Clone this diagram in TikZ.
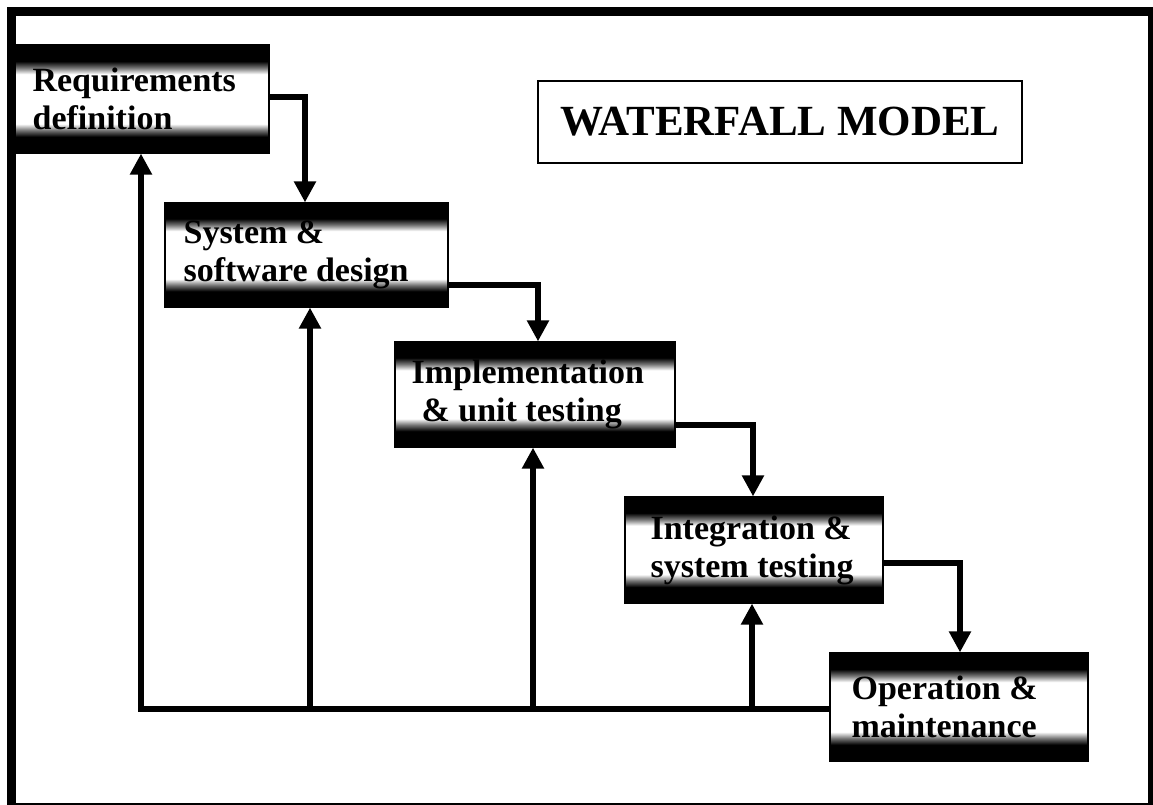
\documentclass[tikz,border=0pt]{standalone}
\usepackage{fontspec}
\setmainfont{Liberation Serif}
\usetikzlibrary{arrows.meta}

% dark bands at top and bottom of each stage box, white in the middle
\pgfdeclareverticalshading{stageband}{100bp}{%
  color(0bp)=(black); color(25bp)=(black); color(32.5bp)=(black);
  color(35.5bp)=(black!55); color(38.5bp)=(white); color(61.5bp)=(white);
  color(64.5bp)=(black!55); color(67.5bp)=(black); color(75bp)=(black);
  color(100bp)=(black)}

\begin{document}
\begin{tikzpicture}[x=1pt,y=-1pt,
  stage/.style={rectangle, draw=black, line width=1.2pt, shading=stageband,
    inner sep=0pt},
  stagetext/.style={anchor=west, align=left, inner sep=0pt,
    font=\fontsize{34}{38}\selectfont\bfseries},
  flow/.style={line width=6pt, line cap=butt, line join=miter,
    -{Triangle[width=21pt,length=21pt]}},
  titlebox/.style={rectangle, draw=black, line width=1.6pt, fill=white,
    minimum width=484pt, minimum height=82pt,
    font=\fontsize{43}{47}\selectfont\bfseries}]

\useasboundingbox (0,0) rectangle (1153,805);
\clip (0,0) rectangle (1153,805);
\fill[white] (0,0) rectangle (1153,805);

% outer frame
\draw[line width=9pt] (11,12) rectangle (1152.5,807);

% title
\node[titlebox] (title) at (780,122) {WATERFALL MODEL};

% stage boxes
\node[stage, minimum width=254pt, minimum height=108pt] (box1) at (142,99) {};
\node[stage, minimum width=283pt, minimum height=104pt] (box2) at (306.5,255) {};
\node[stage, minimum width=280pt, minimum height=105pt] (box3) at (535,394.5) {};
\node[stage, minimum width=258pt, minimum height=106pt] (box4) at (754,550) {};
\node[stage, minimum width=258pt, minimum height=108pt] (box5) at (959,707) {};

% stage labels
\node[stagetext] (t1) at ([xshift=18pt]box1.west) {Requirements\\definition};
\node[stagetext] (t2) at ([xshift=19pt]box2.west) {System \&\\software design};
\node[stagetext] (t3) at ([xshift=17pt]box3.west) {Implementation\\\hspace*{10pt}\& unit testing};
\node[stagetext] (t4) at ([xshift=26pt]box4.west) {Integration \&\\system testing};
\node[stagetext] (t5) at ([xshift=22pt]box5.west) {Operation \&\\maintenance};

% downward flow between stages
\coordinate (j1) at (305,97);
\coordinate (j2) at (538,285);
\coordinate (j3) at (753,425);
\coordinate (j4) at (960,563);
\draw[flow] (box1.east |- j1) -- (j1) -- (j1 |- box2.north);
\draw[flow] (box2.east |- j2) -- (j2) -- (j2 |- box3.north);
\draw[flow] (box3.east |- j3) -- (j3) -- (j3 |- box4.north);
\draw[flow] (box4.east |- j4) -- (j4) -- (j4 |- box5.north);

% feedback paths back to earlier stages
\coordinate (fb1) at (141,709);
\coordinate (fb2) at (310,709);
\coordinate (fb3) at (533,709);
\coordinate (fb4) at (752,709);
\draw[flow] (box5.west |- fb1) -- (fb1) -- (fb1 |- box1.south);
\draw[flow] (fb2) -- (fb2 |- box2.south);
\draw[flow] (fb3) -- (fb3 |- box3.south);
\draw[flow] (fb4) -- (fb4 |- box4.south);

\end{tikzpicture}
\end{document}
